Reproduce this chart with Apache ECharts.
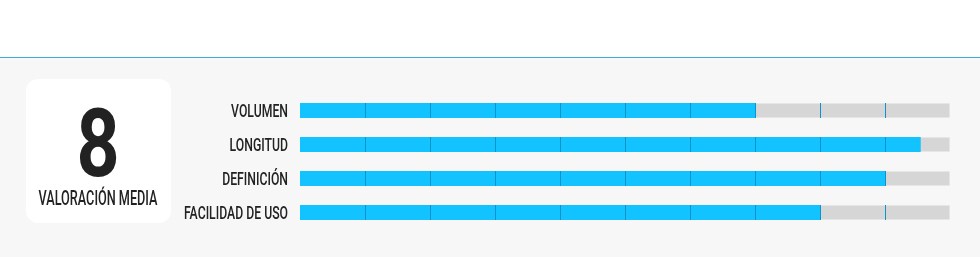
<!DOCTYPE html>
<html>
<head>
<meta charset="utf-8">
<script src="https://cdn.jsdelivr.net/npm/echarts@6/dist/echarts.min.js"></script>
<style>
html,body{margin:0;padding:0;background:#ffffff;}
#chart{width:980px;height:257px;}
</style>
</head>
<body>
<div id="chart"></div>
<script>
var categories = ['VOLUMEN', 'LONGITUD', 'DEFINICIÓN', 'FACILIDAD DE USO'];
var scores = [7, 9.55, 9, 8];
var maxScore = 10;
var tickValues = [1, 2, 3, 4, 5, 6, 7, 8, 9];
var averageText = '8';
var averageLabel = 'VALORACIÓN MEDIA';

var FONT = "Roboto, 'Liberation Sans', sans-serif";
var chart = echarts.init(document.getElementById('chart'), null, {renderer: 'canvas'});

var trackData = categories.map(function () { return maxScore; });
var catData = categories.map(function (c, i) { return [i]; });

chart.setOption({
  animation: false,
  backgroundColor: '#ffffff',
  graphic: [
    {type: 'rect', z: -10, shape: {x: 0, y: 58, width: 980, height: 199}, style: {fill: '#f7f7f7'}},
    {type: 'rect', z: -10, shape: {x: 0, y: 57, width: 980, height: 1}, style: {fill: '#3aaee0'}},
    {type: 'rect', z: -5, shape: {x: 26, y: 79, width: 145, height: 144, r: 12}, style: {fill: '#ffffff'}},
    {type: 'text', z: 10, x: 98, y: 152, scaleX: 0.8, style: {text: averageText, x: 0, y: 0, textAlign: 'center', textVerticalAlign: 'middle', font: 'bold 94px ' + FONT, fill: '#222222'}},
    {type: 'text', z: 10, x: 98, y: 200, scaleX: 0.65, style: {text: averageLabel, x: 0, y: 0, textAlign: 'center', textVerticalAlign: 'middle', font: '500 19.5px ' + FONT, fill: '#222222'}}
  ],
  grid: {left: 300, right: 30, top: 93.5, bottom: 27.5, containLabel: false},
  xAxis: {type: 'value', min: 0, max: maxScore, interval: 1, show: false},
  yAxis: {
    type: 'category', data: categories, inverse: true,
    axisLine: {show: false}, axisTick: {show: false}, splitLine: {show: false},
    axisLabel: {show: false}
  },
  series: [
    {
      type: 'bar', data: trackData, barWidth: 15, barGap: '-100%', silent: true,
      itemStyle: {color: '#d6d6d6', borderColor: '#e6e6e6', borderWidth: 1}, z: 1
    },
    {
      type: 'bar', data: scores, barWidth: 15, barGap: '-100%',
      itemStyle: {color: '#13c3ff'}, z: 2
    },
    {
      type: 'custom', data: catData, z: 3, silent: true,
      renderItem: function (params, api) {
        var cat = api.value(0);
        var children = tickValues.map(function (t) {
          var p = api.coord([t, cat]);
          var x = Math.round(p[0]) + 0.5;
          return {type: 'line', shape: {x1: x, y1: p[1] - 7.5, x2: x, y2: p[1] + 7.5}, style: {stroke: '#0e93c9', lineWidth: 1}};
        });
        var p0 = api.coord([0, cat]);
        children.push({
          type: 'text', x: p0[0] - 12, y: p0[1] + 2, scaleX: 0.68,
          style: {text: categories[cat], x: 0, y: 0, textAlign: 'right', textVerticalAlign: 'middle', font: '500 18px ' + FONT, fill: '#222222'}
        });
        return {type: 'group', children: children};
      }
    }
  ]
});
</script>
</body>
</html>
